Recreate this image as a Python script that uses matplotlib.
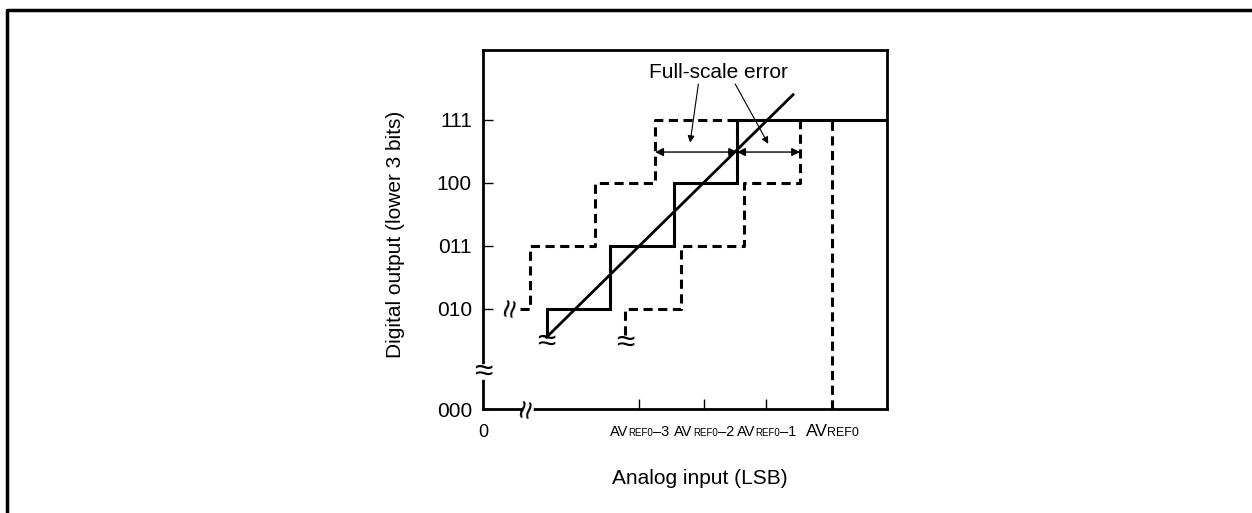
import matplotlib
matplotlib.use("Agg")
import matplotlib.pyplot as plt
from matplotlib.lines import Line2D
from matplotlib.offsetbox import TextArea, HPacker, AnnotationBbox

plt.rcParams['font.family'] = ['Liberation Sans', 'DejaVu Sans']

# x in LSB from the left axis, y in code steps (010 = 2 ... 111 = 5)
code_labels = ['000', '010', '011', '100', '111']
code_pos = [0.41, 2, 3, 4, 5]

solid_x = [1.0, 1.0, 2.0, 2.0, 3.0, 3.0, 4.0, 4.0, 6.36]
solid_y = [1.57, 2, 2, 3, 3, 4, 4, 5, 5]

left_dash_x = [0.58, 0.74, 0.74, 1.76, 1.76, 2.71, 2.71, 3.98]
left_dash_y = [2, 2, 3, 3, 4, 4, 5, 5]

right_dash_x = [2.24, 2.24, 3.12, 3.12, 4.11, 4.11, 4.99, 4.99]
right_dash_y = [1.59, 2, 2, 3, 3, 4, 4, 5]

ideal_x = [1.0, 4.88]
ideal_y = [1.55, 5.40]

avref_x = 5.5
tick_x = [2.46, 3.48, 4.46]
tick_suffix = ['\u20133', '\u20132', '\u20131']

err_y = 4.49
err_left = [2.71, 4.0]
err_right = [4.0, 4.99]

XMAX, YMIN, YMAX = 6.36, 0.41, 6.11

fig = plt.figure(figsize=(12.52, 5.13), dpi=100)
ax = fig.add_axes([0.3858, 0.2027, 0.3227, 0.6998])
ax.set_xlim(0, XMAX)
ax.set_ylim(YMIN, YMAX)

for s in ax.spines.values():
    s.set_linewidth(2.0)

ax.set_yticks(code_pos)
ax.set_yticklabels(code_labels, fontsize=15)
ax.tick_params(axis='y', direction='in', length=7, width=1, pad=8)
ax.set_xticks(tick_x)
ax.set_xticklabels([])
ax.tick_params(axis='x', direction='in', length=7, width=1)

dash = (3, 1.8)
ax.plot(solid_x, solid_y, color='black', lw=2.2, solid_joinstyle='miter')
ax.plot(left_dash_x, left_dash_y, color='black', lw=2.2, dashes=dash)
ax.plot(right_dash_x, right_dash_y, color='black', lw=2.2, dashes=dash)
ax.plot(ideal_x, ideal_y, color='black', lw=2.0)
ax.plot([avref_x, avref_x], [YMIN, 5], color='black', lw=2.2, dashes=dash)

# full-scale error arrows
for a, b in (err_left, err_right):
    ax.annotate('', xy=(a, err_y), xytext=(b, err_y),
                arrowprops=dict(arrowstyle='<|-|>', color='black', lw=1.0,
                                mutation_scale=12, shrinkA=0, shrinkB=0))
ax.text(3.70, 5.75, 'Full-scale error', fontsize=15, ha='center', va='center')
ax.annotate('', xy=(3.26, 4.64), xytext=(3.39, 5.57),
            arrowprops=dict(arrowstyle='-|>', color='black', lw=0.8,
                            mutation_scale=10, shrinkA=0, shrinkB=0))
ax.annotate('', xy=(4.49, 4.62), xytext=(3.97, 5.57),
            arrowprops=dict(arrowstyle='-|>', color='black', lw=0.8,
                            mutation_scale=10, shrinkA=0, shrinkB=0))

# break marks (small white gap in the spines, wavy sign on top)
ax.plot([0, 0], [0.92, 1.08], color='white', lw=4, clip_on=False, zorder=5)
ax.plot([0.66, 0.76], [YMIN, YMIN], color='white', lw=4, clip_on=False, zorder=5)
brk = dict(fontsize=24, ha='center', va='center', zorder=6, clip_on=False)
ax.text(1.0, 1.47, '\u2248', **brk)
ax.text(2.24, 1.45, '\u2248', **brk)
ax.text(0.46, 2.0, '\u2248', rotation=80, **brk)
ax.text(0.0, 1.0, '\u2248', **brk)
ax.text(0.71, YMIN, '\u2248', rotation=80, **brk)


# x tick labels: "AV" with small "REF0" on the same baseline
def av_label(big, small, suffix=''):
    parts = [TextArea('AV', textprops=dict(size=big)),
             TextArea('REF0', textprops=dict(size=small))]
    if suffix:
        parts.append(TextArea(suffix, textprops=dict(size=big)))
    return HPacker(children=parts, align='baseline', pad=0, sep=0)


for x, suf in zip(tick_x, tick_suffix):
    ab = AnnotationBbox(av_label(10.5, 7, suf), (x, 0),
                        xycoords=('data', 'axes fraction'),
                        xybox=(0, -16.5), boxcoords='offset points',
                        box_alignment=(0.5, 0.5), frameon=False, pad=0)
    ax.add_artist(ab)
ab = AnnotationBbox(av_label(12.5, 9), (avref_x, 0),
                    xycoords=('data', 'axes fraction'),
                    xybox=(0, -16.5), boxcoords='offset points',
                    box_alignment=(0.5, 0.5), frameon=False, pad=0)
ax.add_artist(ab)
ax.annotate('0', (0, 0), xycoords=('data', 'axes fraction'), xytext=(0, -17),
            textcoords='offset points', ha='center', va='center', fontsize=13)

fig.text(0.559, 0.068, 'Analog input (LSB)', fontsize=15, ha='center', va='center')
fig.text(0.3155, 0.543, 'Digital output (lower 3 bits)', fontsize=15,
         rotation=90, ha='center', va='center')

# outer frame (top and left only)
fig.add_artist(Line2D([0.0056, 0.0056, 1.0], [0.0, 0.9805, 0.9805],
                      transform=fig.transFigure, color='black', lw=2.5))

fig.savefig('out.png', dpi=100)
